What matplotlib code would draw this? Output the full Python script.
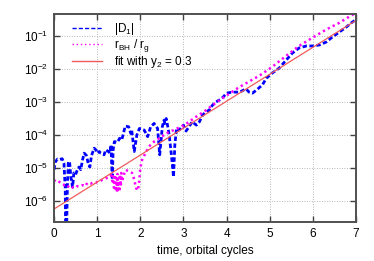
import matplotlib
matplotlib.use('Agg')
import matplotlib.pyplot as plt
import numpy as np

plt.rcParams['font.family'] = ['Liberation Sans', 'DejaVu Sans']
plt.rcParams['mathtext.fontset'] = 'custom'
plt.rcParams['mathtext.rm'] = 'Liberation Sans'
plt.rcParams['mathtext.it'] = 'Liberation Sans'

# |D1| (time, log10 value)
d1_t = [0.00, 0.03, 0.08, 0.13, 0.19, 0.23, 0.26, 0.27, 0.29, 0.31, 0.33, 0.36,
        0.39, 0.43, 0.46, 0.50, 0.54, 0.58, 0.62, 0.66, 0.70, 0.75, 0.80, 0.83,
        0.87, 0.93, 0.97, 1.00, 1.05, 1.08, 1.16, 1.20, 1.26, 1.30, 1.32, 1.35,
        1.37, 1.40, 1.47, 1.52, 1.57, 1.60, 1.65, 1.73, 1.78, 1.80, 1.86, 1.92,
        1.98, 2.09, 2.17, 2.24, 2.32, 2.40, 2.45, 2.51, 2.55, 2.57, 2.60, 2.63,
        2.67, 2.72, 2.77, 2.80, 2.84, 2.90, 3.00, 3.06, 3.13, 3.20, 3.30, 3.37,
        3.44, 3.52, 3.60, 3.67, 3.75, 3.83, 3.92, 4.00, 4.13, 4.30, 4.45, 4.52,
        4.60, 4.69, 4.83, 4.92, 5.06, 5.22, 5.38, 5.52, 5.68, 5.85, 5.99, 6.15,
        6.31, 6.45, 6.61, 6.77, 6.91, 7.00]
d1_log = [-5.05, -4.82, -4.73, -4.74, -4.72, -4.85, -5.6, -7.0, -7.0, -5.6, -4.85, -4.8,
          -5.27, -5.58, -5.15, -5.2, -5.06, -4.97, -5.05, -4.76, -4.55, -4.62, -4.9, -4.97,
          -4.62, -4.4, -4.45, -4.55, -4.5, -4.55, -4.6, -4.45, -4.5, -4.55, -4.3, -5.35,
          -4.45, -4.2, -4.22, -4.1, -4.15, -4.0, -3.73, -3.75, -3.95, -3.85, -4.5, -4.0,
          -3.8, -3.85, -4.05, -3.75, -3.65, -3.8, -4.6, -3.75, -3.55, -3.65, -3.5, -3.7,
          -4.0, -4.6, -5.27, -4.3, -3.8, -3.85, -3.7, -3.88, -3.75, -3.6, -3.7, -3.6,
          -3.4, -3.3, -3.24, -3.1, -3.0, -2.94, -2.85, -2.73, -2.7, -2.7, -2.6, -2.7,
          -2.73, -2.64, -2.48, -2.28, -2.12, -1.97, -1.73, -1.52, -1.36, -1.3, -1.3, -1.27,
          -1.18, -1.03, -0.88, -0.73, -0.58, -0.5]

# r_BH / r_g (time, log10 value)
rbh_t = [0.00, 0.04, 0.10, 0.15, 0.20, 0.25, 0.30, 0.35, 0.40, 0.45, 0.50, 0.54,
         0.60, 0.66, 0.73, 0.77, 0.85, 0.92, 0.97, 1.00, 1.06, 1.12, 1.18, 1.23,
         1.28, 1.32, 1.35, 1.37, 1.39, 1.41, 1.43, 1.44, 1.46, 1.47, 1.49, 1.50,
         1.52, 1.53, 1.55, 1.56, 1.58, 1.62, 1.66, 1.74, 1.81, 1.86, 1.90, 1.93,
         1.95, 1.97, 2.00, 2.04, 2.12, 2.20, 2.32, 2.44, 2.55, 2.67, 2.78, 2.90,
         3.02, 3.13, 3.29, 3.52, 3.67, 3.83, 4.06, 4.29, 4.52, 4.76, 4.95, 5.06,
         5.38, 5.68, 5.99, 6.31, 6.61, 6.88, 7.00]
rbh_log = [-5.36, -5.42, -5.4, -5.45, -5.5, -5.52, -5.5, -5.6, -5.62, -5.58, -5.6, -5.55,
           -5.55, -5.52, -5.55, -5.45, -5.47, -5.44, -5.45, -5.42, -5.4, -5.36, -5.33, -5.3,
           -5.28, -5.22, -5.4, -5.25, -5.6, -5.2, -5.7, -5.3, -5.75, -5.18, -5.65, -5.3,
           -5.72, -5.2, -5.55, -5.15, -5.4, -5.2, -5.06, -5.1, -5.15, -5.36, -5.6, -5.68,
           -5.65, -5.45, -5.0, -4.76, -4.55, -4.35, -4.2, -4.1, -4.0, -3.9, -3.85, -3.77,
           -3.7, -3.6, -3.45, -3.25, -3.1, -2.95, -2.75, -2.55, -2.38, -2.2, -2.03, -1.93,
           -1.6, -1.3, -1.05, -0.8, -0.6, -0.38, -0.3]

# fit with growth rate y2 = 0.3, end points
fit_t = [0.0, 7.0]
fit_val = [5.7e-7, 0.30]

labels = ['|D$_1$|', 'r$_{BH}$ / r$_g$', 'fit with y$_2$ = 0.3']

fig = plt.figure(figsize=(3.74, 2.61), dpi=100)
ax = fig.add_axes([0.1444, 0.1494, 0.8076, 0.7966])

ax.plot(d1_t, 10.0**np.array(d1_log), color='#0000ff', lw=2.0,
        linestyle=(0, (1.6, 0.9)), label=labels[0])
ax.plot(rbh_t, 10.0**np.array(rbh_log), color='#ff00ff', lw=1.8,
        linestyle=(0, (0.9, 1.3)), label=labels[1])
ax.plot(fit_t, fit_val, color='#f05a5a', lw=0.9, label=labels[2])

ax.set_yscale('log')
ax.set_xlim(0, 7)
ax.set_ylim(2.3e-7, 0.464)
ax.set_xticks(range(8))
ax.set_yticks([1e-6, 1e-5, 1e-4, 1e-3, 1e-2, 1e-1])
ax.minorticks_off()
ax.tick_params(direction='in', length=4, width=1.0, top=True, right=True,
               labelsize=8.5, color='#404040', pad=4)
for s in ax.spines.values():
    s.set_linewidth(1.4)
    s.set_color('#505050')
ax.grid(True, linestyle=(0, (1, 2)), color='#a0a0a0', lw=0.6)
ax.set_xlabel('time, orbital cycles', fontsize=8.5, labelpad=4)

leg = ax.legend(loc='upper left', bbox_to_anchor=(0.035, 1.0), frameon=False,
                fontsize=8.5, handlelength=2.6, handletextpad=0.95,
                labelspacing=0.0, borderaxespad=0.2)
# thin samples in the key, like the original
styles = [(0, (3, 1.5)), (0, (1, 2)), '-']
for h, st in zip(leg.legend_handles, styles):
    h.set_linewidth(1.0)
    h.set_linestyle(st)

plt.savefig('out.png', dpi=100)
